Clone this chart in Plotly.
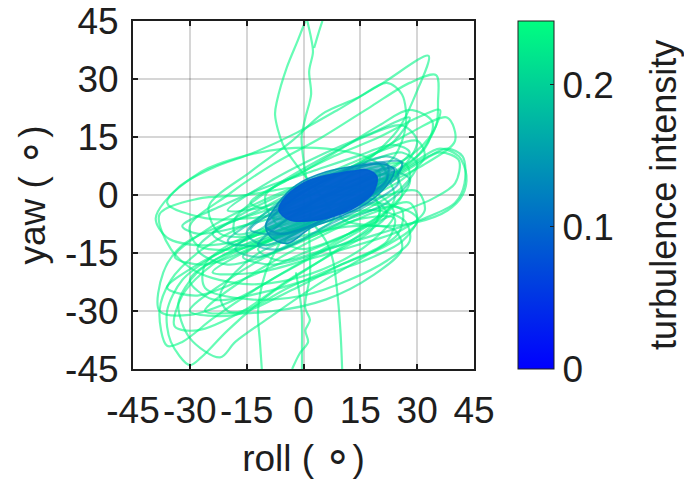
import plotly.graph_objects as go
from plotly.colors import sample_colorscale

# ---------------- data ----------------
# Each trajectory: list of (roll, yaw) points in degrees
traj_g01 = [(-39,-6),(-33,2),(-24,7),(-13,11),(-2,16),(9,22),(21,29),(33,36),(30,27),(25,17),(17,9),(8,2),(-2,-5),(-14,-11),(-27,-13),(-36,-11),(-39,-6)]
traj_g02 = [(-30,-8),(-20,0),(-8,8),(5,15),(18,23),(28,29),(35,31),(35.5,24),(35,18),(30,10),(20,3),(8,-4),(-5,-10),(-18,-14),(-28,-13),(-30,-8)]
traj_g03 = [(-25,-3),(-14,6),(-3,14),(5,21),(14,25),(22,29),(26,26),(27,18),(24,10),(15,3),(3,-5),(-10,-10),(-22,-10),(-25,-3)]
traj_g04 = [(-12,-14),(0,-8),(12,-2),(24,5),(33,10),(38,12),(42,10),(42.5,3),(40,-2),(32,-6),(20,-10),(6,-14),(-6,-17),(-12,-14)]
traj_g05 = [(-5,-12),(8,-5),(20,2),(30,8),(36,11),(41,9),(40,3),(34,-1),(24,-5),(12,-10),(0,-14),(-5,-12)]
traj_g06 = [(-36,-39),(-38,-30),(-35,-22),(-28,-15),(-18,-9),(-6,-4),(6,2),(18,7),(27,8),(28,3),(22,-4),(12,-10),(0,-17),(-12,-24),(-24,-32),(-32,-38),(-36,-39)]
traj_g07 = [(-38,-30),(-37,-20),(-32,-13),(-22,-8),(-10,-4),(2,0),(14,4),(24,5),(26,0),(20,-6),(8,-13),(-5,-20),(-18,-27),(-30,-31),(-38,-30)]
traj_g08 = [(-30,-44),(-35,-38),(-36,-30),(-32,-22),(-24,-16),(-12,-10),(0,-4),(12,1),(22,4),(24,-1),(18,-8),(6,-16),(-8,-25),(-20,-35),(-27,-42),(-30,-44)]
traj_g09 = [(-22,-42),(-30,-37),(-33,-28),(-28,-20),(-18,-14),(-6,-9),(6,-5),(18,-2),(26,-4),(25,-10),(16,-16),(4,-23),(-8,-31),(-18,-38),(-22,-42)]
traj_g10 = [(-38,-5),(-35,-14),(-28,-20),(-16,-23),(-4,-22),(8,-18),(18,-12),(24,-5),(20,0),(10,2),(-2,2),(-15,0),(-28,-1),(-38,-5)]
traj_g11 = [(-26,-24),(-14,-27),(0,-26),(12,-22),(22,-17),(28,-12),(27,-7),(20,-4),(8,-5),(-6,-8),(-18,-12),(-26,-18),(-26,-24)]
traj_g12 = [(-20,-30),(-8,-30),(6,-27),(18,-21),(26,-14),(24,-9),(14,-8),(2,-10),(-10,-14),(-18,-20),(-22,-26),(-20,-30)]
traj_g13 = [(-36,-2),(-27,6),(-16,10),(-5,12),(6,12),(16,10),(22,6),(20,1),(10,-2),(-2,-4),(-14,-6),(-26,-6),(-36,-2)]
traj_g14 = [(-10,0),(0,6),(10,12),(20,18),(28,22),(34,19),(32,12),(24,6),(14,1),(2,-4),(-8,-6),(-10,0)]
traj_g15 = [(-18,-6),(-8,2),(4,9),(16,15),(26,18),(30,14),(26,7),(16,2),(4,-3),(-8,-8),(-18,-10),(-18,-6)]
traj_g16 = [(-30,-22),(-22,-16),(-10,-12),(2,-8),(14,-5),(24,-3),(30,-6),(26,-12),(16,-17),(4,-21),(-10,-25),(-24,-27),(-30,-22)]
traj_g17 = [(-16,-16),(-6,-10),(6,-5),(18,-1),(22,-5),(16,-10),(4,-15),(-8,-18),(-16,-16)]
traj_g18 = [(-34,-34),(-32,-26),(-24,-18),(-12,-12),(0,-7),(12,-3),(20,-3),(18,-9),(8,-15),(-4,-22),(-16,-30),(-28,-35),(-34,-34)]
traj_g19 = [(-28,-14),(-18,-6),(-6,0),(6,5),(18,9),(26,11),(30,8),(26,2),(16,-4),(4,-10),(-8,-15),(-20,-18),(-28,-14)]
traj_g20 = [(-24,-20),(-14,-14),(-2,-9),(10,-4),(22,0),(30,1),(32,-4),(26,-9),(14,-13),(0,-17),(-12,-20),(-24,-20)]
traj_g21 = [(-14,-2),(-4,4),(8,10),(20,15),(30,20),(36,22),(34,16),(28,10),(18,5),(6,0),(-6,-4),(-14,-2)]
traj_g22 = [(-32,-8),(-22,-3),(-10,2),(2,6),(14,10),(24,13),(28,11),(22,6),(10,1),(-2,-4),(-16,-8),(-28,-10),(-32,-8)]
traj_g23 = [(10,-2),(22,4),(30,9),(36,12),(41,10),(43,5),(42,0),(38,-4),(30,-7),(20,-8),(10,-6),(10,-2)]
traj_g24 = [(-34,-16),(-24,-8),(-12,-2),(0,3),(12,8),(22,12),(30,14),(32,10),(26,4),(14,-2),(2,-8),(-12,-13),(-26,-18),(-34,-16)]
traj_g25 = [(-26,-30),(-16,-22),(-4,-15),(8,-9),(20,-4),(28,-2),(30,-7),(22,-13),(10,-18),(-4,-24),(-16,-30),(-26,-30)]
traj_g26 = [(-20,-4),(-8,4),(6,11),(18,16),(28,20),(24,14),(14,8),(2,2),(-10,-3),(-20,-4)]
traj_g27 = [(-36,-24),(-28,-18),(-16,-12),(-4,-7),(8,-3),(18,0),(20,-5),(12,-10),(0,-15),(-14,-21),(-28,-26),(-36,-24)]
traj_g28 = [(-8,-6),(4,2),(16,9),(28,16),(38,20),(40,14),(32,8),(20,2),(8,-4),(-4,-9),(-8,-6)]
traj_g29 = [(-30,-30),(-20,-22),(-8,-15),(4,-10),(16,-6),(24,-6),(22,-12),(10,-18),(-4,-25),(-18,-31),(-30,-30)]
traj_g30 = [(-24,-10),(-12,-4),(0,2),(12,6),(20,6),(18,0),(6,-5),(-6,-10),(-18,-13),(-24,-10)]
# near-vertical excursions
traj_v01 = [(1,45),(2,40.6),(2.5,37),(1.5,32),(2,26),(0.5,20),(-0.5,15),(0,9),(1,3),(2,-2),(1.5,-8),(1.7,-16),(1.7,-21),(0.4,-29),(1.7,-32.3),(0.5,-35),(1.2,-38),(-1,-41),(-3,-45)]
traj_v02 = [(0.5,45),(-1.5,40),(-4.4,33),(-7,24.3),(-7.5,20.7),(-5.4,13),(-2,8),(2,3),(6,-2),(8,-6),(4,-9)]
traj_v03 = [(3,-8),(6,-12),(7.8,-17),(9.1,-27),(9.8,-36),(10.2,-45)]
traj_v04 = [(-6,-12),(-10,-20),(-12,-30),(-11.5,-38),(-11,-45)]
traj_v05 = [(-2,-20),(-0.5,-30),(-0.4,-40),(-0.4,-45)]
traj_v06 = [(5,45),(4,42),(2.8,38)]
# medium-intensity loops close to the core
traj_t01 = [(-15,-10),(-8,-3),(2,3),(12,7),(22,10),(26,8),(22,3),(12,-3),(0,-9),(-10,-13),(-15,-10)]
traj_t02 = [(-12,-13),(-4,-6),(6,0),(16,5),(24,7),(25,3),(18,-2),(6,-8),(-6,-14),(-12,-13)]
traj_t03 = [(-20,-12),(-12,-6),(0,1),(12,6),(20,8),(22,4),(14,-2),(2,-8),(-10,-13),(-20,-12)]
traj_t04 = [(-10,-8),(-4,-2),(6,4),(16,8),(22,8),(22,4),(14,-2),(4,-7),(-6,-10),(-10,-8)]
traj_t05 = [(-18,-14),(-10,-8),(0,-3),(12,2),(24,6),(28,4),(22,-2),(10,-7),(-2,-12),(-12,-16),(-18,-14)]
traj_t06 = [(-14,-9),(-6,-3),(4,3),(14,7),(26,8.5),(24,4),(16,-1),(6,-6),(-4,-10),(-14,-9)]
# dense low-intensity core (filled regions)
halo_core = [(-10,-8),(-7,-2.5),(-2,2.5),(6,6),(14,7.5),(21,8),(24,6.5),(22,2.5),(17,-2),(10,-5.5),(2,-8.5),(-4,-12.5),(-7,-12),(-9,-10.5)]
dense_core = [(-6.5,-4),(-4.8,-0.5),(-1,2.5),(1.7,3.9),(5.5,5),(9.6,5.7),(13,6.2),(16.8,6.5),(19.4,4.7),(18.3,0.5),(15.5,-2),(12.3,-3.9),(8,-5.5),(3.6,-6.5),(-3.6,-6.5)]

line_trajs = [traj_g01, traj_g02, traj_g03, traj_g04, traj_g05, traj_g06, traj_g07, traj_g08,
              traj_g09, traj_g10, traj_g11, traj_g12, traj_g13, traj_g14, traj_g15, traj_g16,
              traj_g17, traj_g18, traj_g19, traj_g20, traj_g21, traj_g22, traj_g23, traj_g24,
              traj_g25, traj_g26, traj_g27, traj_g28, traj_g29, traj_g30,
              traj_v01, traj_v02, traj_v03, traj_v04, traj_v05, traj_v06,
              traj_t01, traj_t02, traj_t03, traj_t04, traj_t05, traj_t06]
line_intensity = [0.235, 0.24, 0.235, 0.23, 0.235, 0.24, 0.235, 0.24,
                  0.235, 0.24, 0.235, 0.23, 0.24, 0.235, 0.23, 0.235,
                  0.225, 0.24, 0.23, 0.235, 0.24, 0.23, 0.235, 0.235,
                  0.24, 0.23, 0.235, 0.24, 0.235, 0.225,
                  0.24, 0.24, 0.235, 0.24, 0.235, 0.24,
                  0.18, 0.16, 0.19, 0.12, 0.2, 0.15]
fill_trajs = [halo_core, dense_core]
fill_intensity = [0.14, 0.09]

cmin, cmax = 0.0, 0.245
winter = [[0.0, "rgb(0,0,255)"], [1.0, "rgb(0,255,128)"]]
xticks = [-45, -30, -15, 0, 15, 30, 45]
yticks = [-45, -30, -15, 0, 15, 30, 45]
cbar_ticks = [0, 0.1, 0.2]
cbar_title = "turbulence intensity"

FS = 37
TXT = "#1e1e1e"


def rgba(value, alpha):
    c = sample_colorscale(winter, [(value - cmin) / (cmax - cmin)])[0]
    return c.replace("rgb(", "rgba(").replace(")", f",{alpha})")


def closed(pts):
    return [p[0] for p in pts] + [pts[0][0]], [p[1] for p in pts] + [pts[0][1]]


fig = go.Figure()
for pts, ti in zip(line_trajs, line_intensity):
    fig.add_trace(go.Scatter(x=[p[0] for p in pts], y=[p[1] for p in pts], mode="lines",
                             line=dict(color=rgba(ti, 0.6), width=2.2, shape="spline", smoothing=0.9),
                             hoverinfo="skip", showlegend=False))
for pts, ti in zip(fill_trajs, fill_intensity):
    xs, ys = closed(pts)
    fig.add_trace(go.Scatter(x=xs, y=ys, mode="lines", fill="toself",
                             fillcolor=rgba(ti, 0.6 if ti > 0.1 else 0.95),
                             line=dict(color=rgba(ti, 0.9), width=1.5, shape="spline", smoothing=1.0),
                             hoverinfo="skip", showlegend=False))

# colour bar carrier
fig.add_trace(go.Scatter(x=[dense_core[0][0]], y=[dense_core[0][1]], mode="markers",
                         marker=dict(size=1, opacity=0, color=[0.1], colorscale=winter,
                                     cmin=cmin, cmax=cmax, showscale=True,
                                     colorbar=dict(x=1.129, xanchor="left", y=0.5, yanchor="middle",
                                                   len=1, lenmode="fraction", thickness=36,
                                                   xpad=0, ypad=0,
                                                   outlinewidth=1, outlinecolor=TXT,
                                                   tickvals=cbar_ticks, ticktext=["0", "0.1", "0.2"],
                                                   ticks="inside", ticklen=4, tickcolor=TXT,
                                                   tickfont=dict(size=FS, color=TXT))),
                         hoverinfo="skip", showlegend=False))
fig.add_annotation(text=cbar_title, xref="paper", yref="paper", x=1.554, y=0.5,
                   xanchor="center", yanchor="middle", textangle=-90, showarrow=False,
                   font=dict(size=36, color=TXT))

axis_common = dict(showgrid=True, gridcolor="rgba(0,0,0,0.16)", gridwidth=1.5,
                   zeroline=False, showline=True, linecolor=TXT, linewidth=2,
                   mirror="ticks", ticks="inside", ticklen=5, tickwidth=2, tickcolor=TXT,
                   tickfont=dict(size=FS, color=TXT), layer="above traces", automargin=False)
deg = "<span style='font-size:44px'>\u2218</span>"
fig.update_xaxes(range=[-45, 45], tickvals=xticks, ticktext=[str(v) for v in xticks],
                 ticklabelstandoff=8,
                 title=dict(text="roll ( " + deg + ")", font=dict(size=FS, color=TXT), standoff=6),
                 **axis_common)
fig.update_yaxes(range=[-45, 45], tickvals=yticks, ticktext=[str(v) for v in yticks],
                 ticklabelstandoff=5,
                 title=dict(text="yaw ( " + deg + ")", font=dict(size=FS, color=TXT), standoff=8),
                 **axis_common)
fig.update_layout(width=684, height=486, margin=dict(l=133, r=210, t=21, b=117),
                  paper_bgcolor="white", plot_bgcolor="white",
                  font=dict(family="Liberation Sans, Arial, sans-serif", color=TXT))
fig.write_html("out.html")
